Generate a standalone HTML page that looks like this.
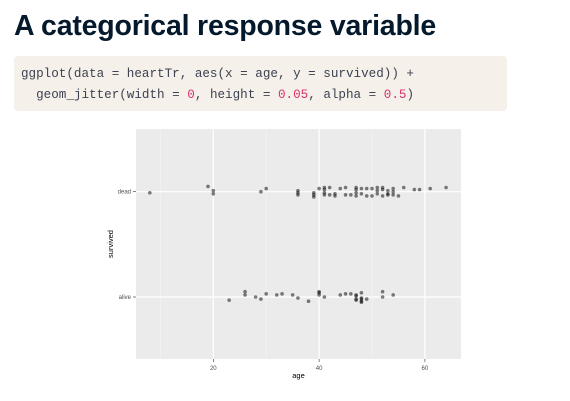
<!DOCTYPE html>
<html><head><meta charset="utf-8"><style>
body{margin:0;width:570px;height:401px;background:#fff;overflow:hidden;position:relative;font-family:"Liberation Sans",sans-serif}
#title{position:absolute;left:14px;top:10px;font-size:28.5px;font-weight:bold;color:#05192d;letter-spacing:-0.2px;margin:0;white-space:nowrap}
#code{position:absolute;left:14px;top:56px;width:493px;height:55px;background:#f5f1ea;border-radius:4px}
#code pre{margin:0;position:absolute;left:7px;top:8px;font-family:"Liberation Mono",monospace;font-size:12.6px;line-height:21px;color:#3d4251}
.n{color:#d6336c}
svg{position:absolute;left:0;top:0}
</style></head><body>
<h1 id="title">A categorical response variable</h1>
<div id="code"><pre>ggplot(data = heartTr, aes(x = age, y = survived)) +
  geom_jitter(width = <span class="n">0</span>, height = <span class="n">0.05</span>, alpha = <span class="n">0.5</span>)</pre></div>
<svg id="chart" width="570" height="401"></svg>
<script>
const deadAges=[8,19,20,20,29,30,36,36,36,39,39,39,40,41,41,41,41,42,42,43,43,44,45,45,46,47,47,47,47,48,48,49,49,50,50,51,51,51,52,52,52,53,53,53,54,54,54,55,56,58,59,61,64];
const deadY=[1.99,2.05,2.01,1.98,2.0,2.03,2.01,1.99,1.97,1.99,1.97,1.95,2.03,2.04,2.02,1.99,1.97,2.04,1.97,1.98,1.96,2.03,2.04,1.97,1.97,2.04,2.02,1.99,1.96,2.03,1.98,2.03,1.96,2.03,1.96,2.04,2.01,1.98,2.04,2.02,1.96,2.01,1.98,1.97,2.03,2.0,1.97,1.96,2.04,2.02,2.02,2.03,2.04];
const aliveAges=[23,26,26,28,29,30,32,33,35,36,38,40,40,40,41,44,45,46,47,47,47,47,48,48,48,48,48,49,52,52,54];
const aliveY=[0.97,1.05,1.02,1.0,0.98,1.03,1.02,1.03,1.02,0.99,0.96,1.05,1.04,1.02,1.0,1.02,1.03,1.03,1.02,1.01,0.98,0.97,1.04,0.99,0.98,0.96,0.95,0.98,1.05,1.0,1.02];
const xTicks=[20,40,60];
const xMinor=[10,30,50];
const yCats=["alive","dead"];
const NS="http://www.w3.org/2000/svg";
const svg=document.getElementById('chart');
const L=136,R=461,T=129,B=359;
const xs=v=>213.3+(v-20)*5.29;
const ys=v=>297-(v-1)*105.3;
function mk(tag,attrs,parent){const e=document.createElementNS(NS,tag);for(const k in attrs)e.setAttribute(k,attrs[k]);(parent||svg).appendChild(e);return e;}
const panel=mk('rect',{x:L,y:T,width:R-L,height:B-T,fill:'#ebebeb'});


xMinor.forEach(v=>{const l=mk('line',{x1:xs(v),x2:xs(v),y1:T,y2:B,stroke:'#f5f5f5','stroke-width':0.6});

});
xTicks.forEach(v=>{const l=mk('line',{x1:xs(v),x2:xs(v),y1:T,y2:B,stroke:'#fff','stroke-width':1.2});


const tk=mk('line',{x1:xs(v),x2:xs(v),y1:B,y2:B+3,stroke:'#333','stroke-width':0.6});


const t=mk('text',{x:xs(v),y:B+11,'font-size':6,fill:'#4d4d4d','text-anchor':'middle','font-family':'Liberation Sans,sans-serif'});t.textContent=v;

});
yCats.forEach((c,i)=>{const y=ys(i+1);const l=mk('line',{x1:L,x2:R,y1:y,y2:y,stroke:'#fff','stroke-width':1.2});


const tk=mk('line',{x1:L-3,x2:L,y1:y,y2:y,stroke:'#333','stroke-width':0.6});


const t=mk('text',{x:L-5,y:y+2,'font-size':6,fill:'#4d4d4d','text-anchor':'end','font-family':'Liberation Sans,sans-serif'});t.textContent=c;

});
function pts(ages,yv,name){ages.forEach((a,i)=>{const c=mk('circle',{cx:xs(a),cy:ys(yv[i]),r:1.8,fill:'#000','fill-opacity':0.5});

});}
pts(deadAges,deadY,'dead-point');
pts(aliveAges,aliveY,'alive-point');
const xt=mk('text',{x:(L+R)/2,y:378,'font-size':7.5,fill:'#000','text-anchor':'middle','font-family':'Liberation Sans,sans-serif'});xt.textContent='age';


const yt=mk('text',{x:0,y:0,'font-size':7.5,fill:'#000','text-anchor':'middle','font-family':'Liberation Sans,sans-serif',transform:`translate(113,${(T+B)/2}) rotate(-90)`});yt.textContent='survived';


</script>
</body></html>
